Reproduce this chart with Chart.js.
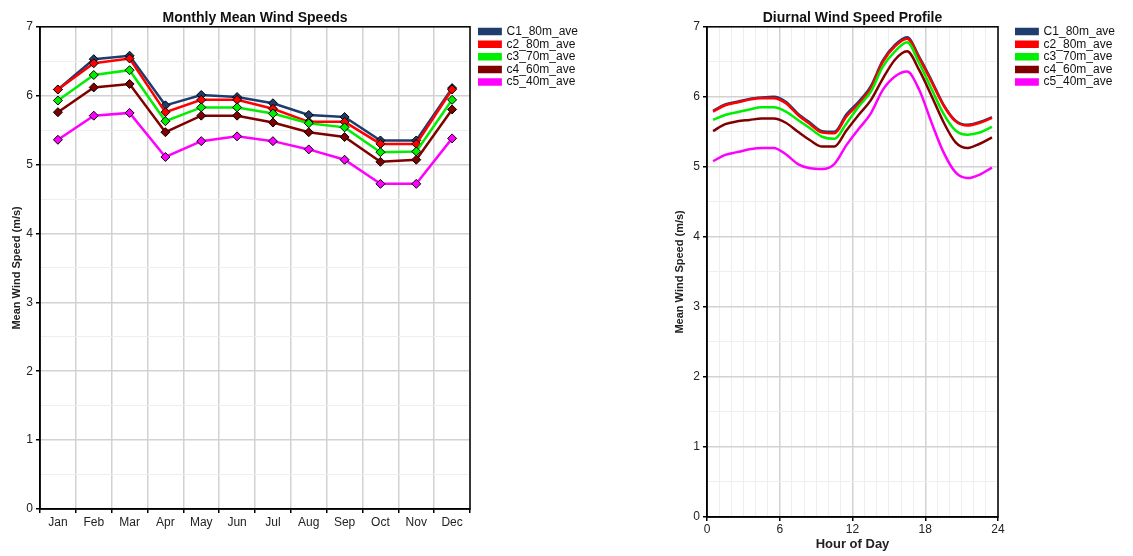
<!DOCTYPE html>
<html lang="en">
<head>
<meta charset="UTF-8">
<title>Wind Speeds</title>
<script src="https://cdn.jsdelivr.net/npm/chart.js"></script>
<style>
    body { margin: 0; background: #fff; }
    .box { position: absolute; top: 0; height: 556px; }
</style>
</head>
<body>
<div class="box" style="left:0; width:600px;"><canvas id="monthlyChart" width="600" height="556"></canvas></div>
<div class="box" style="left:600px; width:533px;"><canvas id="diurnalChart" width="533" height="556"></canvas></div>

<script>
// series names and colours
const seriesNames = ['C1_80m_ave', 'c2_80m_ave', 'c3_70m_ave', 'c4_60m_ave', 'c5_40m_ave'];
const seriesColors = ['#1f3c6e', '#ff0000', '#00ee00', '#800000', '#ff00ff'];

// monthly means (m/s)
const months = ['Jan', 'Feb', 'Mar', 'Apr', 'May', 'Jun', 'Jul', 'Aug', 'Sep', 'Oct', 'Nov', 'Dec'];
const c1Monthly = [6.09, 6.53, 6.58, 5.86, 6.01, 5.98, 5.89, 5.72, 5.69, 5.35, 5.35, 6.11];
const c2Monthly = [6.09, 6.47, 6.54, 5.76, 5.94, 5.94, 5.81, 5.62, 5.62, 5.30, 5.30, 6.09];
const c3Monthly = [5.93, 6.30, 6.37, 5.63, 5.83, 5.83, 5.74, 5.60, 5.54, 5.18, 5.19, 5.94];
const c4Monthly = [5.76, 6.12, 6.17, 5.47, 5.71, 5.71, 5.61, 5.47, 5.40, 5.04, 5.07, 5.80];
const c5Monthly = [5.36, 5.71, 5.75, 5.11, 5.34, 5.41, 5.34, 5.22, 5.07, 4.72, 4.72, 5.38];

// diurnal profile (m/s), one value per hour
const hours = [0.5, 1.5, 2.5, 3.5, 4.5, 5.5, 6.5, 7.5, 8.5, 9.5, 10.5, 11.5,
               12.5, 13.5, 14.5, 15.5, 16.5, 17.5, 18.5, 19.5, 20.5, 21.5, 22.5, 23.5];
const c1Diurnal = [5.80, 5.89, 5.93, 5.97, 5.99, 6.00, 5.93, 5.76, 5.63, 5.51, 5.50, 5.75,
                   5.93, 6.15, 6.52, 6.74, 6.85, 6.57, 6.24, 5.89, 5.66, 5.60, 5.64, 5.71];
const c2Diurnal = [5.79, 5.88, 5.92, 5.96, 5.98, 5.98, 5.91, 5.74, 5.61, 5.49, 5.48, 5.72,
                   5.90, 6.12, 6.50, 6.72, 6.83, 6.55, 6.22, 5.88, 5.65, 5.59, 5.63, 5.70];
const c3Diurnal = [5.67, 5.74, 5.78, 5.82, 5.85, 5.85, 5.79, 5.67, 5.55, 5.43, 5.40, 5.62,
                   5.86, 6.07, 6.43, 6.65, 6.78, 6.48, 6.12, 5.76, 5.52, 5.46, 5.49, 5.57];
const c4Diurnal = [5.51, 5.61, 5.65, 5.67, 5.69, 5.69, 5.63, 5.50, 5.38, 5.29, 5.29, 5.52,
                   5.74, 5.95, 6.26, 6.53, 6.65, 6.38, 6.02, 5.64, 5.35, 5.27, 5.33, 5.42];
const c5Diurnal = [5.08, 5.17, 5.21, 5.25, 5.27, 5.27, 5.18, 5.04, 4.98, 4.97, 5.04, 5.31,
                   5.54, 5.76, 6.10, 6.29, 6.36, 6.10, 5.64, 5.21, 4.92, 4.84, 4.89, 4.99];

Chart.defaults.font.family = 'Arial, "Liberation Sans", sans-serif';
Chart.defaults.color = '#222';

const majorGrid = '#d2d2d2';
const minorGrid = '#eeeeee';

// black frame round the plot area
const plotFrame = {
    id: 'plotFrame',
    beforeDatasetsDraw(chart) {
        const a = chart.chartArea;
        const ctx = chart.ctx;
        ctx.save();
        ctx.strokeStyle = '#000';
        ctx.lineWidth = 1.5;
        ctx.strokeRect(a.left, a.top, a.right - a.left, a.bottom - a.top);
        ctx.restore();
    }
};

function yAxis(width) {
    return {
        min: 0,
        max: 7,
        ticks: {
            stepSize: 0.5,
            font: { size: 12 },
            padding: 3,
            callback: v => (v % 1 === 0 ? v : '')
        },
        grid: {
            color: c => (c.tick && c.tick.value % 1 === 0 ? majorGrid : minorGrid),
            lineWidth: c => (c.tick && c.tick.value % 1 === 0 ? 1.5 : 1),
            tickColor: c => (c.tick && c.tick.value % 1 === 0 ? '#000' : 'rgba(0,0,0,0)'),
            tickLength: 4
        },
        border: { color: '#000', width: 1.5 },
        title: {
            display: true,
            text: 'Mean Wind Speed (m/s)',
            font: { size: 11, weight: 'bold' },
            padding: { top: 4, bottom: 4 }
        },
        afterFit(scale) { scale.width = width; }
    };
}

// invisible spacer between plot and legend
function gapAxis(width) {
    return {
        type: 'linear',
        position: 'right',
        display: false,
        afterFit(scale) { scale.width = width; }
    };
}

function legendOpts() {
    return {
        position: 'right',
        align: 'start',
        title: { display: true, text: '', font: { size: 10, lineHeight: 1 }, padding: { top: 2, bottom: 13 } },
        labels: {
            boxWidth: 22,
            boxHeight: 5,
            padding: 0.6,
            font: { size: 12, lineHeight: 1.08 },
            color: '#111',
            sort: (a, b) => a.datasetIndex - b.datasetIndex
        }
    };
}

function titleOpts(text) {
    return {
        display: true,
        text: text,
        fullSize: false,
        font: { size: 14, weight: 'bold' },
        color: '#111',
        padding: { top: 10, bottom: 0 }
    };
}

// Monthly chart
const monthlySeries = [c1Monthly, c2Monthly, c3Monthly, c4Monthly, c5Monthly];
new Chart(document.getElementById('monthlyChart'), {
    type: 'line',
    data: {
        labels: months,
        datasets: monthlySeries.map((vals, i) => ({
            label: seriesNames[i],
            data: vals,
            borderColor: seriesColors[i],
            backgroundColor: seriesColors[i],
            borderWidth: 2.5,
            pointStyle: 'rectRot',
            pointRadius: 4.5,
            pointBackgroundColor: seriesColors[i],
            pointBorderColor: '#000',
            pointBorderWidth: 1,
            tension: 0,
            order: 5 - i
        }))
    },
    options: {
        responsive: false,
        animation: false,
        layout: { padding: { left: 6, right: 12, top: 0, bottom: 0 } },
        plugins: {
            title: titleOpts('Monthly Mean Wind Speeds'),
            legend: legendOpts(),
            tooltip: { enabled: false }
        },
        scales: {
            x: {
                offset: true,
                grid: { offset: true, color: majorGrid, lineWidth: 1.5, tickColor: '#000', tickLength: 4 },
                border: { color: '#000', width: 1.5 },
                ticks: { font: { size: 12 }, padding: 2, maxRotation: 0, autoSkip: false },
                afterFit(scale) { scale.height = 47; }
            },
            y: yAxis(34),
            gap: gapAxis(8)
        }
    },
    plugins: [plotFrame]
});

// Diurnal chart
const diurnalSeries = [c1Diurnal, c2Diurnal, c3Diurnal, c4Diurnal, c5Diurnal];
new Chart(document.getElementById('diurnalChart'), {
    type: 'line',
    data: {
        datasets: diurnalSeries.map((vals, i) => ({
            label: seriesNames[i],
            data: hours.map((h, k) => ({ x: h, y: vals[k] })),
            borderColor: seriesColors[i],
            backgroundColor: seriesColors[i],
            borderWidth: 2.5,
            pointRadius: 0,
            cubicInterpolationMode: 'monotone',
            order: 5 - i
        }))
    },
    options: {
        responsive: false,
        animation: false,
        layout: { padding: { left: 69, right: 8, top: 0, bottom: 0 } },
        plugins: {
            title: titleOpts('Diurnal Wind Speed Profile'),
            legend: legendOpts(),
            tooltip: { enabled: false }
        },
        scales: {
            x: {
                type: 'linear',
                min: 0,
                max: 24,
                ticks: {
                    stepSize: 1,
                    font: { size: 12 },
                    padding: 1,
                    maxRotation: 0,
                    autoSkip: false,
                    callback: v => (v % 6 === 0 ? v : '')
                },
                grid: {
                    color: c => (c.tick && c.tick.value % 6 === 0 ? majorGrid : minorGrid),
                    lineWidth: c => (c.tick && c.tick.value % 6 === 0 ? 1.5 : 1),
                    tickColor: c => (c.tick && c.tick.value % 6 === 0 ? '#000' : 'rgba(0,0,0,0)'),
                    tickLength: 4
                },
                border: { color: '#000', width: 1.5 },
                title: {
                    display: true,
                    text: 'Hour of Day',
                    font: { size: 13, weight: 'bold' },
                    padding: { top: 0, bottom: 4 }
                },
                afterFit(scale) { scale.height = 39; }
            },
            y: yAxis(38),
            gap: gapAxis(17)
        }
    },
    plugins: [plotFrame]
});
</script>
</body>
</html>
